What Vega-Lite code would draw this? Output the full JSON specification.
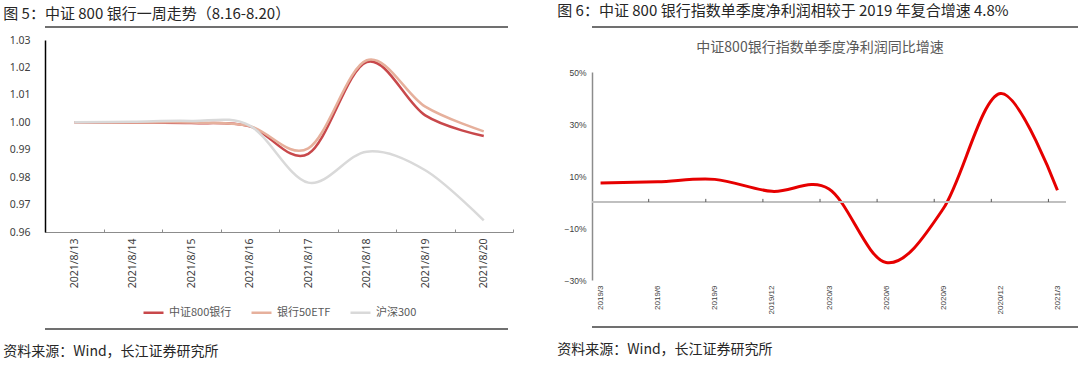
{
  "$schema": "https://vega.github.io/schema/vega-lite/v6.json",
  "background": "white",
  "padding": {"left": 3, "top": 4, "right": 0, "bottom": 0},
  "config": {
    "font": "Noto Sans CJK SC",
    "view": {"stroke": null},
    "axis": {"labelFont": "Noto Sans", "grid": false, "title": null},
    "axisY": {"tickCount": 8},
    "legend": {"layout": {"bottom": {"anchor": "middle"}}}
  },
  "spacing": 43,
  "hconcat": [
    {
      "concat": [
        {
          "width": 463,
          "height": 0.001,
          "title": {"text": "图 5：中证 800 银行一周走势（8.16-8.20）", "anchor": "start", "fontSize": 15, "fontWeight": "normal", "color": "#262626", "offset": 4.5, "dx": -41},
          "data": {"values": [{"a": 0}]},
          "layer": [
            {
              "mark": {"type": "rule", "color": "#404040", "strokeWidth": 1.5},
              "encoding": {"y": {"datum": 1, "type": "quantitative", "scale": {"domain": [0, 1]}, "axis": null}}
            }
          ]
        },
        {
          "width": 468,
          "height": 192,
          "data": {"values": [
            {"date": "2021/8/13", "series": "中证800银行", "value": 1.0000},
            {"date": "2021/8/14", "series": "中证800银行", "value": 0.9998},
            {"date": "2021/8/15", "series": "中证800银行", "value": 0.9997},
            {"date": "2021/8/16", "series": "中证800银行", "value": 0.9985},
            {"date": "2021/8/17", "series": "中证800银行", "value": 0.9885},
            {"date": "2021/8/18", "series": "中证800银行", "value": 1.0220},
            {"date": "2021/8/19", "series": "中证800银行", "value": 1.0025},
            {"date": "2021/8/20", "series": "中证800银行", "value": 0.9950},
            {"date": "2021/8/13", "series": "银行50ETF", "value": 1.0000},
            {"date": "2021/8/14", "series": "银行50ETF", "value": 0.9999},
            {"date": "2021/8/15", "series": "银行50ETF", "value": 0.9999},
            {"date": "2021/8/16", "series": "银行50ETF", "value": 0.9986},
            {"date": "2021/8/17", "series": "银行50ETF", "value": 0.9905},
            {"date": "2021/8/18", "series": "银行50ETF", "value": 1.0226},
            {"date": "2021/8/19", "series": "银行50ETF", "value": 1.0057},
            {"date": "2021/8/20", "series": "银行50ETF", "value": 0.9967},
            {"date": "2021/8/13", "series": "沪深300", "value": 1.0000},
            {"date": "2021/8/14", "series": "沪深300", "value": 1.0002},
            {"date": "2021/8/15", "series": "沪深300", "value": 1.0005},
            {"date": "2021/8/16", "series": "沪深300", "value": 0.9988},
            {"date": "2021/8/17", "series": "沪深300", "value": 0.9780},
            {"date": "2021/8/18", "series": "沪深300", "value": 0.9893},
            {"date": "2021/8/19", "series": "沪深300", "value": 0.9825},
            {"date": "2021/8/20", "series": "沪深300", "value": 0.9642}
          ]},
          "mark": {"type": "line", "interpolate": "cardinal", "tension": 0, "strokeWidth": 2.5},
          "encoding": {
            "x": {
              "field": "date", "type": "ordinal", "sort": null, "bandPosition": 0.5,
              "scale": {"type": "band", "paddingInner": 0, "paddingOuter": 0},
              "axis": {"tickBand": "extent", "labelAngle": -90, "labelFontSize": 10.5, "labelColor": "#404040", "domainColor": "#8c8c8c", "tickColor": "#8c8c8c", "tickSize": -3, "labelPadding": 9}
            },
            "y": {
              "field": "value", "type": "quantitative",
              "scale": {"domain": [0.96, 1.03], "zero": false, "nice": false},
              "axis": {"values": [0.96, 0.97, 0.98, 0.99, 1.0, 1.01, 1.02, 1.03], "format": ".2f", "labelFontSize": 10.5, "labelColor": "#404040", "domainColor": "#000000", "domainWidth": 1.5, "ticks": false, "labelPadding": 15, "minExtent": 41}
            },
            "color": {
              "field": "series", "type": "nominal",
              "scale": {"domain": ["中证800银行", "银行50ETF", "沪深300"], "range": ["#C8484B", "#E6B09C", "#D9D9D9"]},
              "legend": {"orient": "bottom", "direction": "horizontal", "title": null, "symbolType": "stroke", "symbolStrokeWidth": 2.5, "symbolSize": 400, "labelFontSize": 11, "labelColor": "#595959", "columnPadding": 14, "offset": 13}
            }
          }
        },
        {
          "width": 463,
          "height": 4,
          "title": {"text": "资料来源：Wind，长江证券研究所", "orient": "bottom", "anchor": "start", "fontSize": 14, "fontWeight": "normal", "color": "#262626", "offset": 15, "dx": -41},
          "data": {"values": [{"a": 0}]},
          "layer": [
            {
              "mark": {"type": "rule", "color": "#404040", "strokeWidth": 1.5},
              "encoding": {"y": {"datum": 0, "type": "quantitative", "scale": {"domain": [0, 1]}, "axis": null}}
            }
          ]
        }
      ],
      "columns": 1,
      "align": "none",
      "spacing": 7,
      "resolve": {"legend": {"color": "independent"}, "scale": {"x": "independent", "y": "independent", "color": "independent"}}
    },
    {
      "concat": [
        {
          "width": 486,
          "height": 6.5,
          "title": {"text": "图 6：中证 800 银行指数单季度净利润相较于 2019 年复合增速 4.8%", "anchor": "start", "fontSize": 15, "fontWeight": "normal", "color": "#262626", "offset": 7, "dx": -34},
          "data": {"values": [{"a": 0}]},
          "layer": [
            {
              "mark": {"type": "rule", "color": "#404040", "strokeWidth": 1.5},
              "encoding": {"y": {"datum": 1, "type": "quantitative", "scale": {"domain": [0, 1]}, "axis": null}}
            }
          ]
        },
        {
          "width": 474,
          "height": 208,
          "title": {"text": "中证800银行指数单季度净利润同比增速", "anchor": "middle", "fontSize": 14, "fontWeight": "normal", "color": "#595959", "offset": 13, "dx": -9},
          "data": {"values": [
            {"q": "2019/3", "v": 0.073},
            {"q": "2019/6", "v": 0.078},
            {"q": "2019/9", "v": 0.087},
            {"q": "2019/12", "v": 0.041},
            {"q": "2020/3", "v": 0.050},
            {"q": "2020/6", "v": -0.233},
            {"q": "2020/9", "v": -0.026},
            {"q": "2020/12", "v": 0.417},
            {"q": "2021/3", "v": 0.045}
          ]},
          "layer": [
            {
              "mark": {"type": "line", "interpolate": "cardinal", "tension": 0, "strokeWidth": 3, "color": "#E60000"},
              "encoding": {
                "x": {
                  "field": "q", "type": "ordinal", "sort": null,
                  "scale": {"type": "point", "padding": 0.15, "domain": ["2019/3", "2019/6", "2019/9", "2019/12", "2020/3", "2020/6", "2020/9", "2020/12", "2021/3"]},
                  "axis": {"labelAngle": -90, "labelFontSize": 8, "labelFont": "Liberation Sans", "labelColor": "#404040", "domain": false, "ticks": false, "labelPadding": 5}
                },
                "y": {
                  "field": "v", "type": "quantitative",
                  "scale": {"domain": [-0.3, 0.5], "nice": false},
                  "axis": {"values": [-0.3, -0.2, -0.1, 0, 0.1, 0.2, 0.3, 0.4, 0.5], "tickCount": 8, "format": ".0%", "labelFont": "Liberation Sans", "labelFontSize": 8.5, "labelColor": "#404040", "domainColor": "#8c8c8c", "domainWidth": 1.5, "ticks": false, "labelPadding": 6, "minExtent": 34}
                }
              }
            },
            {
              "mark": {"type": "rule", "color": "#bfbfbf", "strokeWidth": 1},
              "encoding": {"y": {"datum": 0, "type": "quantitative"}}
            },
            {
              "transform": [{"filter": "datum.q != '2019/3'"}],
              "mark": {"type": "rule", "color": "#595959", "strokeWidth": 1, "xOffset": -9},
              "encoding": {
                "x": {"field": "q", "type": "ordinal", "sort": null},
                "y": {"datum": 0, "type": "quantitative"},
                "y2": {"datum": 0.012}
              }
            }
          ]
        },
        {
          "width": 486,
          "height": 6,
          "title": {"text": "资料来源：Wind，长江证券研究所", "orient": "bottom", "anchor": "start", "fontSize": 14, "fontWeight": "normal", "color": "#262626", "offset": 15, "dx": -34},
          "data": {"values": [{"a": 0}]},
          "layer": [
            {
              "mark": {"type": "rule", "color": "#404040", "strokeWidth": 1.5},
              "encoding": {"y": {"datum": 0, "type": "quantitative", "scale": {"domain": [0, 1]}, "axis": null}}
            }
          ]
        }
      ],
      "columns": 1,
      "align": "none",
      "spacing": 7,
      "resolve": {"scale": {"x": "independent", "y": "independent"}}
    }
  ]
}
